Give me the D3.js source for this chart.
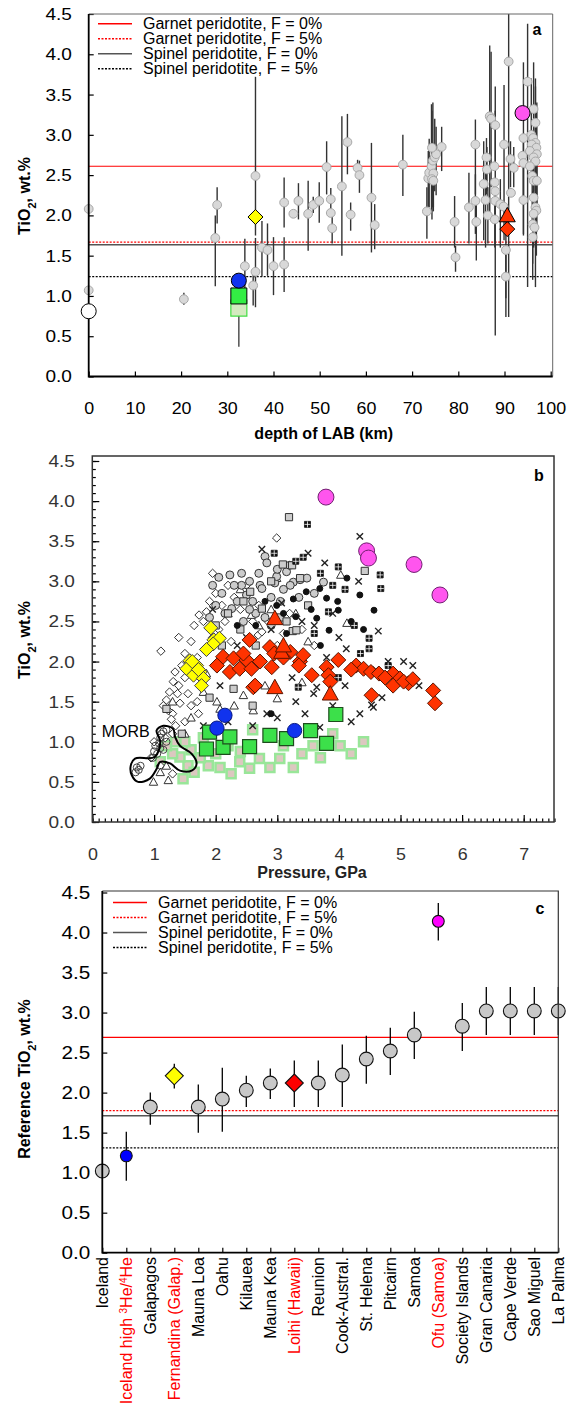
<!DOCTYPE html>
<html lang="en">
<head>
<meta charset="UTF-8">
<title>TiO2 vs LAB depth, pressure and hotspot</title>
<script src="https://cdn.jsdelivr.net/npm/d3@7"></script>
<style>
  body { margin: 0; background: #fff; }
  svg { font-family: "Liberation Sans", Arial, Helvetica, sans-serif; }
</style>
</head>
<body>
<svg id="chart" width="570" height="1408"></svg>
<script>
// ---------- shared ----------
const legendLabels = ["Garnet peridotite, F = 0%", "Garnet peridotite, F = 5%",
                      "Spinel peridotite, F = 0%", "Spinel peridotite, F = 5%"];
const refLinesA = [2.61, 1.667, 1.635, 1.24];
const refLinesC = [2.69, 1.775, 1.71, 1.31];

// ---------- panel a : [depth km, TiO2, errLow, errHigh] ----------
const aPoints = [
  [0, 2.08, null, null], [0, 1.07, null, null], [20.6, 0.96, 0.89, 1.04],
  [27.8, 2.13, 1.9, 2.35], [27.4, 1.72, 1.12, 2.0], [36.1, 2.49, 1.75, 3.72],
  [36.1, 1.30, 0.86, 1.72], [33.8, 1.37, 0.91, 1.71], [35.6, 1.13, 0.88, 1.3],
  [37.5, 1.60, 1.24, 1.93], [38.7, 1.57, 1.25, 1.9], [40.0, 1.37, 1.01, 1.73],
  [42.3, 2.16, 1.85, 2.47], [42.3, 1.39, 1.05, 1.73], [44.3, 2.02, null, null],
  [45.4, 2.18, 1.95, 2.4], [47.5, 2.02, 1.56, 2.43], [48.6, 2.13, 2.03, 2.23],
  [49.9, 2.18, 1.91, 2.41], [51.5, 2.60, 2.26, 2.92], [52.4, 2.20, 2.02, 2.34],
  [52.4, 2.03, null, null], [52.7, 1.84, 1.65, 2.02], [54.8, 2.36, 1.50, 3.23],
  [56.0, 2.91, 2.51, 3.26], [56.7, 2.01, 1.81, 2.16], [58.2, 2.59, 2.49, 2.69],
  [58.6, 2.50, 2.28, 2.68], [61.2, 2.22, 1.54, 2.90], [61.9, 1.88, 1.58, 2.14],
  [68.0, 2.63, 2.24, 3.0], [73.2, 2.05, 1.71, 2.35], [73.5, 2.46, 2.10, 2.80],
  [73.7, 2.53, 2.10, 2.95], [74.2, 2.61, 2.05, 3.38], [74.5, 2.68, 2.10, 3.40],
  [74.9, 2.72, 2.30, 3.20], [75.2, 2.76, 2.25, 3.10], [74.3, 2.84, 2.30, 3.30],
  [76.4, 2.85, 2.55, 3.10], [74.6, 2.52, 2.05, 2.90], [74.3, 2.45, 1.95, 2.80],
  [74.6, 2.43, 2.10, 2.75], [79.2, 1.92, 1.60, 2.24], [79.4, 1.48, 1.30, 1.62],
  [82.3, 2.10, 1.65, 2.53], [83.7, 2.88, 2.26, 3.19], [83.7, 2.18, 1.77, 2.51],
  [83.9, 1.92, 1.44, 2.22], [85.5, 2.39, 1.69, 2.92], [85.9, 2.19, 1.60, 2.60],
  [86.1, 2.72, 2.26, 2.96], [86.2, 2.57, 2.30, 2.85], [86.4, 2.00, 1.65, 2.35],
  [86.8, 3.23, 2.02, 4.11], [87.1, 3.20, 2.35, 4.03], [88.0, 3.12, 2.60, 3.60],
  [88.0, 2.18, 0.51, 3.30], [87.8, 2.61, null, null], [87.9, 2.41, null, null],
  [88.0, 2.30, null, null], [87.9, 1.95, 1.60, 2.30], [89.1, 2.14, 1.60, 2.45],
  [89.9, 2.88, 1.69, 3.62], [90.9, 3.91, 0.74, 4.5], [90.3, 1.57, 0.97, 1.93],
  [90.3, 1.24, 0.74, 1.60], [91.3, 2.70, 2.35, 2.92], [91.4, 2.28, null, null],
  [92.0, 2.59, 2.35, 2.85], [89.8, 2.11, null, null], [95.0, 3.66, 1.11, 4.38],
  [96.3, 3.32, 2.20, 3.90], [96.7, 3.15, 1.11, 3.70], [94.1, 2.96, 2.18, 3.90],
  [93.9, 2.74, null, null], [94.1, 2.65, 1.75, 3.00], [94.1, 2.19, 1.77, 2.60],
  [95.8, 3.00, 2.4, 3.7], [96.2, 2.96, null, null], [96.7, 2.90, 2.3, 3.6],
  [95.9, 2.88, null, null], [96.9, 2.84, 2.2, 3.3], [95.5, 2.80, null, null],
  [97.0, 2.76, 2.0, 3.4], [96.3, 2.72, null, null], [96.7, 2.67, 2.1, 3.1],
  [95.5, 2.61, null, null], [96.0, 2.49, 1.9, 3.0], [96.3, 2.43, null, null],
  [97.0, 2.43, 1.8, 2.9], [96.3, 2.22, 1.6, 2.7], [96.7, 2.10, null, null],
  [96.9, 2.06, 1.5, 2.6], [96.3, 2.02, null, null], [96.1, 1.89, 1.4, 2.3],
  [96.5, 1.85, null, null], [96.1, 1.73, 1.2, 2.2]
];
// highlighted localities in panel a: [depth, TiO2]
const aIceland = [0, 0.81];
const aBlue = [32.5, 1.19];
const aGreen = [32.5, 1.0, 0.37];       // with lower error end
const aPaleGreen = [32.5, 0.85];
const aYellow = [36.1, 1.98];
const aRedTri = [90.6, 2.0];
const aRedDia = [90.6, 1.83];
const aMagenta = [93.9, 3.27];

// ---------- panel b : [pressure GPa, TiO2] ----------
const bOpenDiamond = [[1.11,2.13],[1.2,1.52],[1.31,1.75],[1.34,1.87],[1.4,1.7],[1.25,1.62],[1.15,1.45],
  [1.3,1.35],[1.23,1.39],[1.72,1.35],[1.73,2.58],[1.95,3.1],[2.99,3.54],[2.69,2.33],[2.75,2.37],
  [1.45,1.95],[1.5,1.8],[1.38,1.6],[1.42,1.48],[1.28,1.28],[1.35,1.2],[1.5,2.1],[1.6,2.25],
  [1.65,2.45],[1.8,2.5],[1.85,2.62],[1.9,2.75],[2.0,2.85],[2.1,2.7],[2.2,2.95],[2.3,2.8],
  [2.4,2.65],[2.5,2.95],[2.15,2.5],[2.05,2.4],[1.95,2.3],[1.85,2.15],[1.7,2.05],[1.55,1.6],
  [1.6,1.45],[1.7,1.5],[1.0,1.0],[0.95,0.8],[1.1,0.7],[1.3,0.6],[1.18,1.05],[1.5,1.25],
  [2.6,2.5],[2.7,2.7],[2.85,2.5],[3.0,2.2],[3.1,2.35],[3.2,2.6],[3.4,2.4],[3.6,2.2],
  [1.4,2.3],[2.25,2.25],[1.3,1.1]];
const bGreyCircle = [[2.23,3.08],[2.42,3.1],[2.8,3.31],[2.83,3.23],[2.42,2.95],[2.72,2.95],[2.96,2.98],
  [2.26,2.66],[2.5,2.83],[2.75,2.91],[3.15,3.12],[3.26,2.99],[2.99,3.06],[3.37,3.02],[3.48,3.04],
  [3.21,2.95],[3.75,2.99],[2.1,2.85],[2.0,2.7],[2.35,2.75],[2.6,2.75],[2.65,2.6],[2.9,2.8],
  [3.05,2.75],[3.1,2.9],[2.55,3.0],[2.3,2.95],[1.9,2.55],[2.45,2.5],[2.8,2.55],[3.35,2.8],
  [3.6,2.85],[2.05,3.05],[1.95,2.95],[2.15,2.6],[2.7,3.1],[3.0,3.15],[3.2,3.2],[2.55,2.65],[2.9,2.45]];
const bGreySquare = [[3.19,3.8],[3.09,3.21],[3.24,3.2],[2.56,2.87],[2.75,2.66],[3.25,2.38],[3.37,3.04],
  [2.29,1.66],[2.2,2.6],[4.42,3.13],[3.31,2.39],[1.2,1.41],[1.45,1.1],[2.0,2.45],[2.4,2.4],
  [2.9,3.0],[3.05,2.55],[2.65,2.2],[3.5,2.7],[1.9,1.55],[2.6,1.45],[3.15,2.5],[2.1,2.2],[2.45,2.75]];
const bOpenTriangle = [[2.2,2.6],[2.58,2.58],[2.99,3.04],[1.8,1.62],[2.02,1.5],[3.0,1.54],[3.4,1.74],
  [1.3,1.5],[4.03,3.08],[4.13,2.48],[2.8,1.7],[0.99,0.5],[1.23,0.52],[2.07,1.41],[2.3,1.45],
  [2.61,1.39],[1.1,0.62],[1.2,0.7],[2.4,2.9],[2.9,2.65],[3.5,2.25],[1.6,1.3],[2.45,1.58],
  [1.85,1.85],[3.3,2.6],[2.7,2.45],[1.5,1.1]];
const bCross = [[1.95,2.65],[2.07,1.7],[3.3,1.5],[3.59,1.6],[4.34,3.56],[3.77,3.23],[4.32,3.0],
  [4.64,2.38],[4.12,2.16],[5.05,2.0],[3.64,1.68],[4.53,1.46],[3.24,1.8],[3.07,2.73],[2.83,1.35],
  [4.34,1.35],[4.56,1.43],[3.69,1.18],[4.2,1.25],[2.5,2.3],[2.9,2.4],[3.4,2.5],[3.6,2.45],
  [3.9,2.6],[4.0,2.3],[3.8,2.05],[4.6,1.9],[4.8,2.0],[5.2,1.95],[5.3,1.7],[4.7,1.55],[3.0,1.3],
  [2.6,1.2],[2.2,1.25],[1.8,1.2],[3.45,1.35],[3.9,1.45],[4.1,1.7],[2.75,3.4],[3.5,3.35],[2.35,2.2]];
const bBlackDot = [[2.99,2.7],[2.8,2.75],[3.26,2.78],[3.47,2.87],[3.3,2.56],[3.69,2.91],[3.8,2.79],
  [3.98,2.75],[3.99,2.64],[4.34,2.83],[4.57,2.64],[4.13,3.04],[3.64,2.54],[3.84,2.39],[3.1,2.6],
  [3.55,2.65],[4.2,2.5],[2.65,2.45],[3.7,2.2],[4.4,2.4],[3.15,2.35],[2.35,2.45],[2.9,1.35]];
const bQuad = [[3.49,3.71],[3.42,3.3],[3.99,3.18],[4.67,3.08],[4.68,2.91],[3.83,2.62],[4.49,2.29],
  [4.49,2.16],[3.34,1.68],[3.99,1.8],[3.7,3.1],[3.3,3.25],[4.1,2.9],[4.25,2.45],[3.9,2.95],
  [3.6,2.35],[4.35,2.1],[2.95,3.35],[4.8,1.95]];
const bPaleSquare = [[1.47,0.54],[1.55,0.7],[2.07,0.68],[2.55,0.67],[2.88,0.68],[3.26,0.68],[4.02,0.95],
  [3.58,0.95],[3.04,0.79],[2.71,0.79],[2.39,0.75],[1.88,0.7],[1.42,0.81],[2.6,1.15],[2.9,1.1],
  [1.3,0.85],[1.6,0.9],[1.75,0.8],[2.0,0.85],[2.2,0.95],[2.4,0.88],[1.2,0.95],[1.35,1.0],
  [1.5,1.0],[3.4,0.85],[3.7,0.8],[4.2,0.85],[4.4,1.0],[1.65,0.62],[2.25,0.6],[3.1,0.95],
  [3.9,1.1],[1.8,1.05],[1.1,0.75]];
const bMorbCircle = [[0.72,0.68],[0.75,0.65],[0.7,0.62],[0.78,0.7],[1.0,0.88],[1.02,0.95],[1.05,0.85],
  [1.08,0.98],[1.1,1.05],[1.12,1.1],[1.15,1.13],[1.2,1.15],[0.98,0.8],[1.1,0.92],[1.15,0.9],[1.2,1.0]];
const bMorbOutline = [[0.69,0.79],[1.01,0.81],[1.10,1.0],[1.04,1.14],[1.15,1.20],[1.31,1.16],[1.34,1.06],
  [1.42,0.95],[1.61,0.85],[1.69,0.73],[1.61,0.64],[1.42,0.64],[1.26,0.73],[1.10,0.75],[1.04,0.66],
  [0.93,0.54],[0.74,0.50],[0.64,0.58],[0.62,0.70]];
const bYellow = [[1.92,2.42],[1.97,2.27],[2.06,2.29],[1.58,2.01],[1.69,1.95],[1.53,1.91],[1.75,1.87],
  [1.64,1.83],[1.80,1.79],[1.77,1.70],[1.96,2.22],[1.62,2.0],[1.72,1.9],[1.85,2.15]];
const bRedDiamond = [[2.55,2.27],[2.12,2.06],[2.29,2.04],[2.50,2.02],[2.72,2.0],[2.88,2.18],[2.23,1.87],
  [2.39,1.91],[2.58,1.91],[2.02,1.95],[2.61,1.68],[3.37,2.0],[3.21,2.12],[2.91,1.93],[2.64,1.70],
  [3.42,2.08],[3.35,1.95],[3.56,1.83],[3.80,1.93],[3.99,2.02],[3.83,1.83],[3.86,1.75],[4.28,1.95],
  [4.40,1.91],[4.52,1.87],[4.65,1.85],[4.88,1.85],[4.99,1.79],[5.13,1.73],[4.88,1.70],[5.05,1.75],
  [5.2,1.78],[5.53,1.64],[5.56,1.48],[4.53,1.58],[4.2,1.9],[2.45,2.1],[3.1,2.05],[2.95,2.1],[4.75,1.8]];
const bRedTriangle = [[2.96,2.54],[3.07,2.12],[2.96,1.68],[3.86,1.60],[3.1,2.2]];
const bGreen = [[1.90,1.12],[1.85,0.91],[2.12,0.93],[2.23,1.06],[2.55,0.94],[2.88,1.08],[3.15,1.04],
  [3.54,1.14],[3.80,0.98],[3.95,1.34]];
const bBlue = [[2.02,1.17],[2.15,1.33],[3.28,1.14]];
const bMagenta = [[3.79,4.05],[4.45,3.38],[4.48,3.29],[5.22,3.21],[5.64,2.83]];

// ---------- panel c ----------
const cNames = ["Iceland", "Iceland high", "Galapagos", "Fernandina (Galap.)", "Mauna Loa", "Oahu",
  "Kilauea", "Mauna Kea", "Loihi (Hawaii)", "Reunion", "Cook-Austral.", "St. Helena", "Pitcairn",
  "Samoa", "Ofu (Samoa)", "Society Islands", "Gran Canaria", "Cape Verde", "Sao Miguel", "La Palma"];
const cValue = [1.02, 1.21, 1.82, 2.21, 1.82, 1.92, 2.03, 2.12, 2.12, 2.12, 2.22, 2.42, 2.52, 2.72,
  4.14, 2.83, 3.02, 3.02, 3.02, 3.02];
const cLow  = [1.02, 0.90, 1.60, 2.05, 1.50, 1.51, 1.82, 1.92, 1.82, 1.82, 1.82, 2.11, 2.22, 2.42,
  3.90, 2.52, 2.72, 2.72, 2.72, 2.72];
const cHigh = [1.02, 1.51, 2.00, 2.36, 2.10, 2.31, 2.21, 2.30, 2.40, 2.40, 2.60, 2.71, 2.81, 3.01,
  4.37, 3.12, 3.32, 3.32, 3.32, 3.32];
const cMarker = ["grey", "blue", "grey", "yellow", "grey", "grey", "grey", "grey", "red", "grey",
  "grey", "grey", "grey", "grey", "magenta", "grey", "grey", "grey", "grey", "grey"];
const cRedLabel = ["Iceland high", "Fernandina (Galap.)", "Loihi (Hawaii)", "Ofu (Samoa)"];

// ---------- helpers ----------
const svg = d3.select("#chart");
const refStyle = [
  {stroke: "#ff0000", dash: null, w: 1.2},
  {stroke: "#ff0000", dash: "2,1.5", w: 1.2},
  {stroke: "#555", dash: null, w: 1.6},
  {stroke: "#000", dash: "2,1.5", w: 1.1}
];
const diamond = h => `M0,${-h}L${h},0L0,${h}L${-h},0Z`;
const square = s => `M${-s},${-s}H${s}V${s}H${-s}Z`;
const triangle = h => `M0,${-h}L${h},${h * 0.8}L${-h},${h * 0.8}Z`;
const cross = h => `M${-h},${-h}L${h},${h}M${-h},${h}L${h},${-h}`;

// tick labels in the original are drawn a little wide, so stretch them horizontally
function styleAxis(g, size, stretch) {
  g.select(".domain").remove();
  g.selectAll("text").attr("font-family", null).style("font-size", size + "px").attr("fill", "#000")
    .attr("transform", stretch ? `scale(${stretch},1)` : null);
  g.selectAll("line").attr("stroke", "#000").attr("stroke-width", 1.2);
}

function legend(x0, y0) {
  const g = svg.append("g");
  legendLabels.forEach((t, i) => {
    const y = y0 + i * 15;
    g.append("line").attr("x1", x0).attr("x2", x0 + 34).attr("y1", y - 5.5).attr("y2", y - 5.5)
      .attr("stroke", refStyle[i].stroke).attr("stroke-width", 1.5)
      .attr("stroke-dasharray", refStyle[i].dash);
    g.append("text").attr("x", x0 + 45).attr("y", y).style("font-size", "16px").text(t);
  });
}

function yTitle(x, y, parts) {
  const t = svg.append("text").attr("transform", `translate(${x},${y}) rotate(-90)`)
    .attr("text-anchor", "middle").style("font-size", "16px").style("font-weight", "bold");
  parts.forEach(p => {
    const s = t.append("tspan").text(p[0]);
    if (p[1]) s.attr("baseline-shift", "sub").style("font-size", "11px");
  });
}

// ---------- panel a ----------
(function () {
  const L = 88.7, R = 552.7, T = 14, B = 376.5;
  const x = d3.scaleLinear().domain([0, 100]).range([L, 550.7]);
  const y = d3.scaleLinear().domain([0, 4.5]).range([B, T]);
  const g = svg.append("g");

  g.append("g").attr("transform", `translate(${L},0)`)
    .call(d3.axisLeft(y).tickValues(d3.range(0, 4.51, 0.5)).tickSize(-5).tickPadding(15).tickFormat(d3.format(".1f")))
    .call(a => styleAxis(a, 17, 1.12));
  g.append("g").attr("transform", `translate(0,${B})`)
    .call(d3.axisBottom(x).tickValues(d3.range(0, 101, 10)).tickSize(-5).tickPadding(25))
    .call(a => styleAxis(a, 17, 1.05));

  refLinesA.forEach((v, i) => g.append("line").attr("x1", L).attr("x2", R)
    .attr("y1", y(v)).attr("y2", y(v)).attr("stroke", refStyle[i].stroke)
    .attr("stroke-width", refStyle[i].w).attr("stroke-dasharray", refStyle[i].dash));

  g.append("g").selectAll("line").data(aPoints.filter(d => d[2] !== null)).join("line")
    .attr("x1", d => x(d[0])).attr("x2", d => x(d[0]))
    .attr("y1", d => y(d[2])).attr("y2", d => y(Math.min(d[3], 4.5)))
    .attr("stroke", "#333").attr("stroke-width", 1.4);
  g.append("line").attr("x1", x(aGreen[0])).attr("x2", x(aGreen[0]))
    .attr("y1", y(aGreen[2])).attr("y2", y(aGreen[1])).attr("stroke", "#444").attr("stroke-width", 1.4);

  g.append("g").selectAll("circle").data(aPoints).join("circle")
    .attr("cx", d => x(d[0])).attr("cy", d => y(d[1])).attr("r", 4.4)
    .attr("fill", "#d8d8d8").attr("stroke", "#a8a8a8").attr("stroke-width", 1);

  g.append("path").attr("d", square(8)).attr("transform", `translate(${x(aPaleGreen[0])},${y(aPaleGreen[1])})`)
    .attr("fill", "#d4eac0").attr("stroke", "#44dd44").attr("stroke-width", 1.2);
  g.append("path").attr("d", square(8)).attr("transform", `translate(${x(aGreen[0])},${y(aGreen[1])})`)
    .attr("fill", "#33ee44").attr("stroke", "#000").attr("stroke-width", 1);
  g.append("circle").attr("cx", x(aBlue[0])).attr("cy", y(aBlue[1])).attr("r", 7.5)
    .attr("fill", "#1133ee").attr("stroke", "#000").attr("stroke-width", 1);
  g.append("path").attr("d", diamond(7.5)).attr("transform", `translate(${x(aYellow[0])},${y(aYellow[1])})`)
    .attr("fill", "#ffff00").attr("stroke", "#000").attr("stroke-width", 1);
  g.append("path").attr("d", diamond(7.5)).attr("transform", `translate(${x(aRedDia[0])},${y(aRedDia[1])})`)
    .attr("fill", "#ff3300").attr("stroke", "#000").attr("stroke-width", 1);
  g.append("path").attr("d", triangle(8)).attr("transform", `translate(${x(aRedTri[0])},${y(aRedTri[1])})`)
    .attr("fill", "#ff3300").attr("stroke", "#000").attr("stroke-width", 1);
  g.append("circle").attr("cx", x(aMagenta[0])).attr("cy", y(aMagenta[1])).attr("r", 7.5)
    .attr("fill", "#ff55ee").attr("stroke", "#000").attr("stroke-width", 1);

  // frame
  g.append("path").attr("d", `M${L},${T}H${R}V${B}`).attr("fill", "none").attr("stroke", "#666").attr("stroke-width", 1);
  g.append("path").attr("d", `M${L},${T}V${B}H${R}`).attr("fill", "none").attr("stroke", "#000").attr("stroke-width", 1.8);
  g.append("circle").attr("cx", x(aIceland[0])).attr("cy", y(aIceland[1])).attr("r", 7.5)
    .attr("fill", "#fff").attr("stroke", "#000").attr("stroke-width", 1);

  legend(98, 29.3);
  svg.append("text").attr("x", 537).attr("y", 35).attr("text-anchor", "middle")
    .style("font-size", "16px").style("font-weight", "bold").text("a");
  svg.append("text").attr("x", (L + R) / 2 + 3).attr("y", 439).attr("text-anchor", "middle")
    .style("font-size", "16px").style("font-weight", "bold").text("depth of LAB (km)");
  yTitle(30, 196, [["TiO"], ["2", true], [", wt.%"]]);
})();

// ---------- panel b ----------
(function () {
  const L = 92.3, R = 554, T = 456, B = 822;
  const x = d3.scaleLinear().domain([0, 7.5]).range([92.5, 554.5]);
  const y = d3.scaleLinear().domain([0, 4.5]).range([B, 461]);
  const g = svg.append("g");

  g.append("g").attr("transform", `translate(${L},0)`)
    .call(d3.axisLeft(y).tickValues(d3.range(0, 4.51, 0.1)).tickSize(-3.5).tickFormat(""))
    .call(a => styleAxis(a, 16));
  g.append("g").attr("transform", `translate(${L},0)`)
    .call(d3.axisLeft(y).tickValues(d3.range(0, 4.51, 0.5)).tickSize(-7).tickPadding(15.5).tickFormat(d3.format(".1f")))
    .call(a => styleAxis(a, 17, 1.12));
  g.append("g").attr("transform", `translate(0,${B})`)
    .call(d3.axisBottom(x).tickValues(d3.range(0, 7.51, 0.1)).tickSize(-3.5).tickFormat(""))
    .call(a => styleAxis(a, 16));
  g.append("g").attr("transform", `translate(0,${B})`)
    .call(d3.axisBottom(x).tickValues(d3.range(0, 7.1, 1)).tickSize(-7).tickPadding(26))
    .call(a => styleAxis(a, 17, 1.05));
  g.selectAll("text").attr("fill", "#333");

  const put = (data, path, fill, stroke, sw) => g.append("g").selectAll("path").data(data).join("path")
    .attr("d", path).attr("transform", d => `translate(${x(d[0])},${y(d[1])})`)
    .attr("fill", fill).attr("stroke", stroke).attr("stroke-width", sw);

  put(bPaleSquare, square(4.5), "#dcc8c0", "#99e699", 2.5);
  put(bOpenDiamond, diamond(4.2), "#fff", "#333", 1);
  put(bOpenTriangle, triangle(4.2), "#fff", "#333", 1);
  put(bGreyCircle, d3.symbol(d3.symbolCircle, 50)(), "#ccc", "#333", 1);
  put(bGreySquare, square(3.6), "#ccc", "#333", 1);
  put(bCross, cross(3.2), "none", "#222", 1.4);
  put(bBlackDot, d3.symbol(d3.symbolCircle, 28)(), "#111", "#111", 1);
  put(bQuad, square(3), "#111", "#111", 0.8);
  put(bQuad, "M-3,0H3M0,-3V3", "none", "#fff", 0.8);

  // MORB field
  put(bMorbCircle, d3.symbol(d3.symbolCircle, 40)(), "none", "#444", 1);
  g.append("path").datum(bMorbOutline)
    .attr("d", d3.line().x(d => x(d[0])).y(d => y(d[1])).curve(d3.curveCatmullRomClosed))
    .attr("fill", "none").attr("stroke", "#000").attr("stroke-width", 2);
  g.append("text").attr("x", 101.7).attr("y", 737).style("font-size", "16px").text("MORB");

  put(bGreen, square(7), "#3ce04a", "#1d4d1d", 1.2);
  put(bYellow, diamond(7), "#ffff00", "#444", 1);
  put(bRedDiamond, diamond(7.5), "#ff3300", "#5a1500", 1);
  put(bRedTriangle, triangle(8), "#ff3300", "#5a1500", 1);
  put(bBlue, d3.symbol(d3.symbolCircle, 160)(), "#1133ee", "#0a1a80", 1);
  put(bMagenta, d3.symbol(d3.symbolCircle, 200)(), "#ff55ee", "#702070", 1);

  g.append("rect").attr("x", L).attr("y", T).attr("width", R - L).attr("height", B - T)
    .attr("fill", "none").attr("stroke", "#333").attr("stroke-width", 1.5);
  svg.append("text").attr("x", 539).attr("y", 481).attr("text-anchor", "middle")
    .style("font-size", "16px").style("font-weight", "bold").text("b");
  svg.append("text").attr("x", 312).attr("y", 878).attr("text-anchor", "middle")
    .style("font-size", "16px").style("font-weight", "bold").attr("fill", "#222").text("Pressure, GPa");
  yTitle(30, 640, [["TiO"], ["2", true], [", wt.%"]]);
})();

// ---------- panel c ----------
(function () {
  const L = 102.3, R = 558.3, T = 891, B = 1252.7;
  const x = d3.scalePoint().domain(cNames).range([L, R]);
  const y = d3.scaleLinear().domain([0, 4.5]).range([B, 892.5]);
  const g = svg.append("g");

  g.append("g").attr("transform", `translate(${L},0)`)
    .call(d3.axisLeft(y).tickValues(d3.range(0, 4.51, 0.5)).tickSize(-5).tickPadding(10.5).tickFormat(d3.format(".1f")))
    .call(a => styleAxis(a, 18, 1.15));
  g.append("g").attr("transform", `translate(0,${B})`)
    .call(d3.axisBottom(x).tickSize(-5).tickFormat(""))
    .call(a => styleAxis(a, 16));

  refLinesC.forEach((v, i) => g.append("line").attr("x1", L).attr("x2", R)
    .attr("y1", y(v)).attr("y2", y(v)).attr("stroke", refStyle[i].stroke)
    .attr("stroke-width", refStyle[i].w).attr("stroke-dasharray", refStyle[i].dash));

  g.append("g").selectAll("line").data(cNames).join("line")
    .attr("x1", d => x(d)).attr("x2", d => x(d))
    .attr("y1", (d, i) => y(cLow[i])).attr("y2", (d, i) => y(cHigh[i]))
    .attr("stroke", "#000").attr("stroke-width", 1.3);

  const fills = {grey: "#c8c8c8", blue: "#0000ff", yellow: "#ffff00", red: "#ff0000", magenta: "#ff00ff"};
  cNames.forEach((n, i) => {
    const m = cMarker[i];
    const tr = `translate(${x(n)},${y(cValue[i])})`;
    let p;
    if (m === "yellow" || m === "red") p = diamond(9);
    else if (m === "grey") p = d3.symbol(d3.symbolCircle, 150)();
    else p = d3.symbol(d3.symbolCircle, 110)();
    g.append("path").attr("d", p).attr("transform", tr)
      .attr("fill", fills[m]).attr("stroke", "#111").attr("stroke-width", 1.1);
  });

  g.append("path").attr("d", `M${L},${T}H${R}V${B}`).attr("fill", "none").attr("stroke", "#333").attr("stroke-width", 1.2);
  g.append("path").attr("d", `M${L},${T}V${B}H${R}`).attr("fill", "none").attr("stroke", "#000").attr("stroke-width", 1.8);

  // category labels
  cNames.forEach(n => {
    const t = svg.append("text").attr("transform", `translate(${x(n)},1257) rotate(-90)`)
      .attr("text-anchor", "end").attr("dy", "0.35em").style("font-size", "16px")
      .attr("fill", cRedLabel.includes(n) ? "#ff0000" : "#000");
    if (n === "Iceland high") {
      t.append("tspan").text("Iceland high ");
      t.append("tspan").text("3").attr("baseline-shift", "super").style("font-size", "10px");
      t.append("tspan").text("He/");
      t.append("tspan").text("4").attr("baseline-shift", "super").style("font-size", "10px");
      t.append("tspan").text("He");
    } else t.text(n);
  });

  legend(113, 908);
  svg.append("text").attr("x", 540).attr("y", 914).attr("text-anchor", "middle")
    .style("font-size", "16px").style("font-weight", "bold").text("c");
  yTitle(30, 1079, [["Reference TiO"], ["2", true], [", wt.%"]]);
})();
</script>
</body>
</html>
